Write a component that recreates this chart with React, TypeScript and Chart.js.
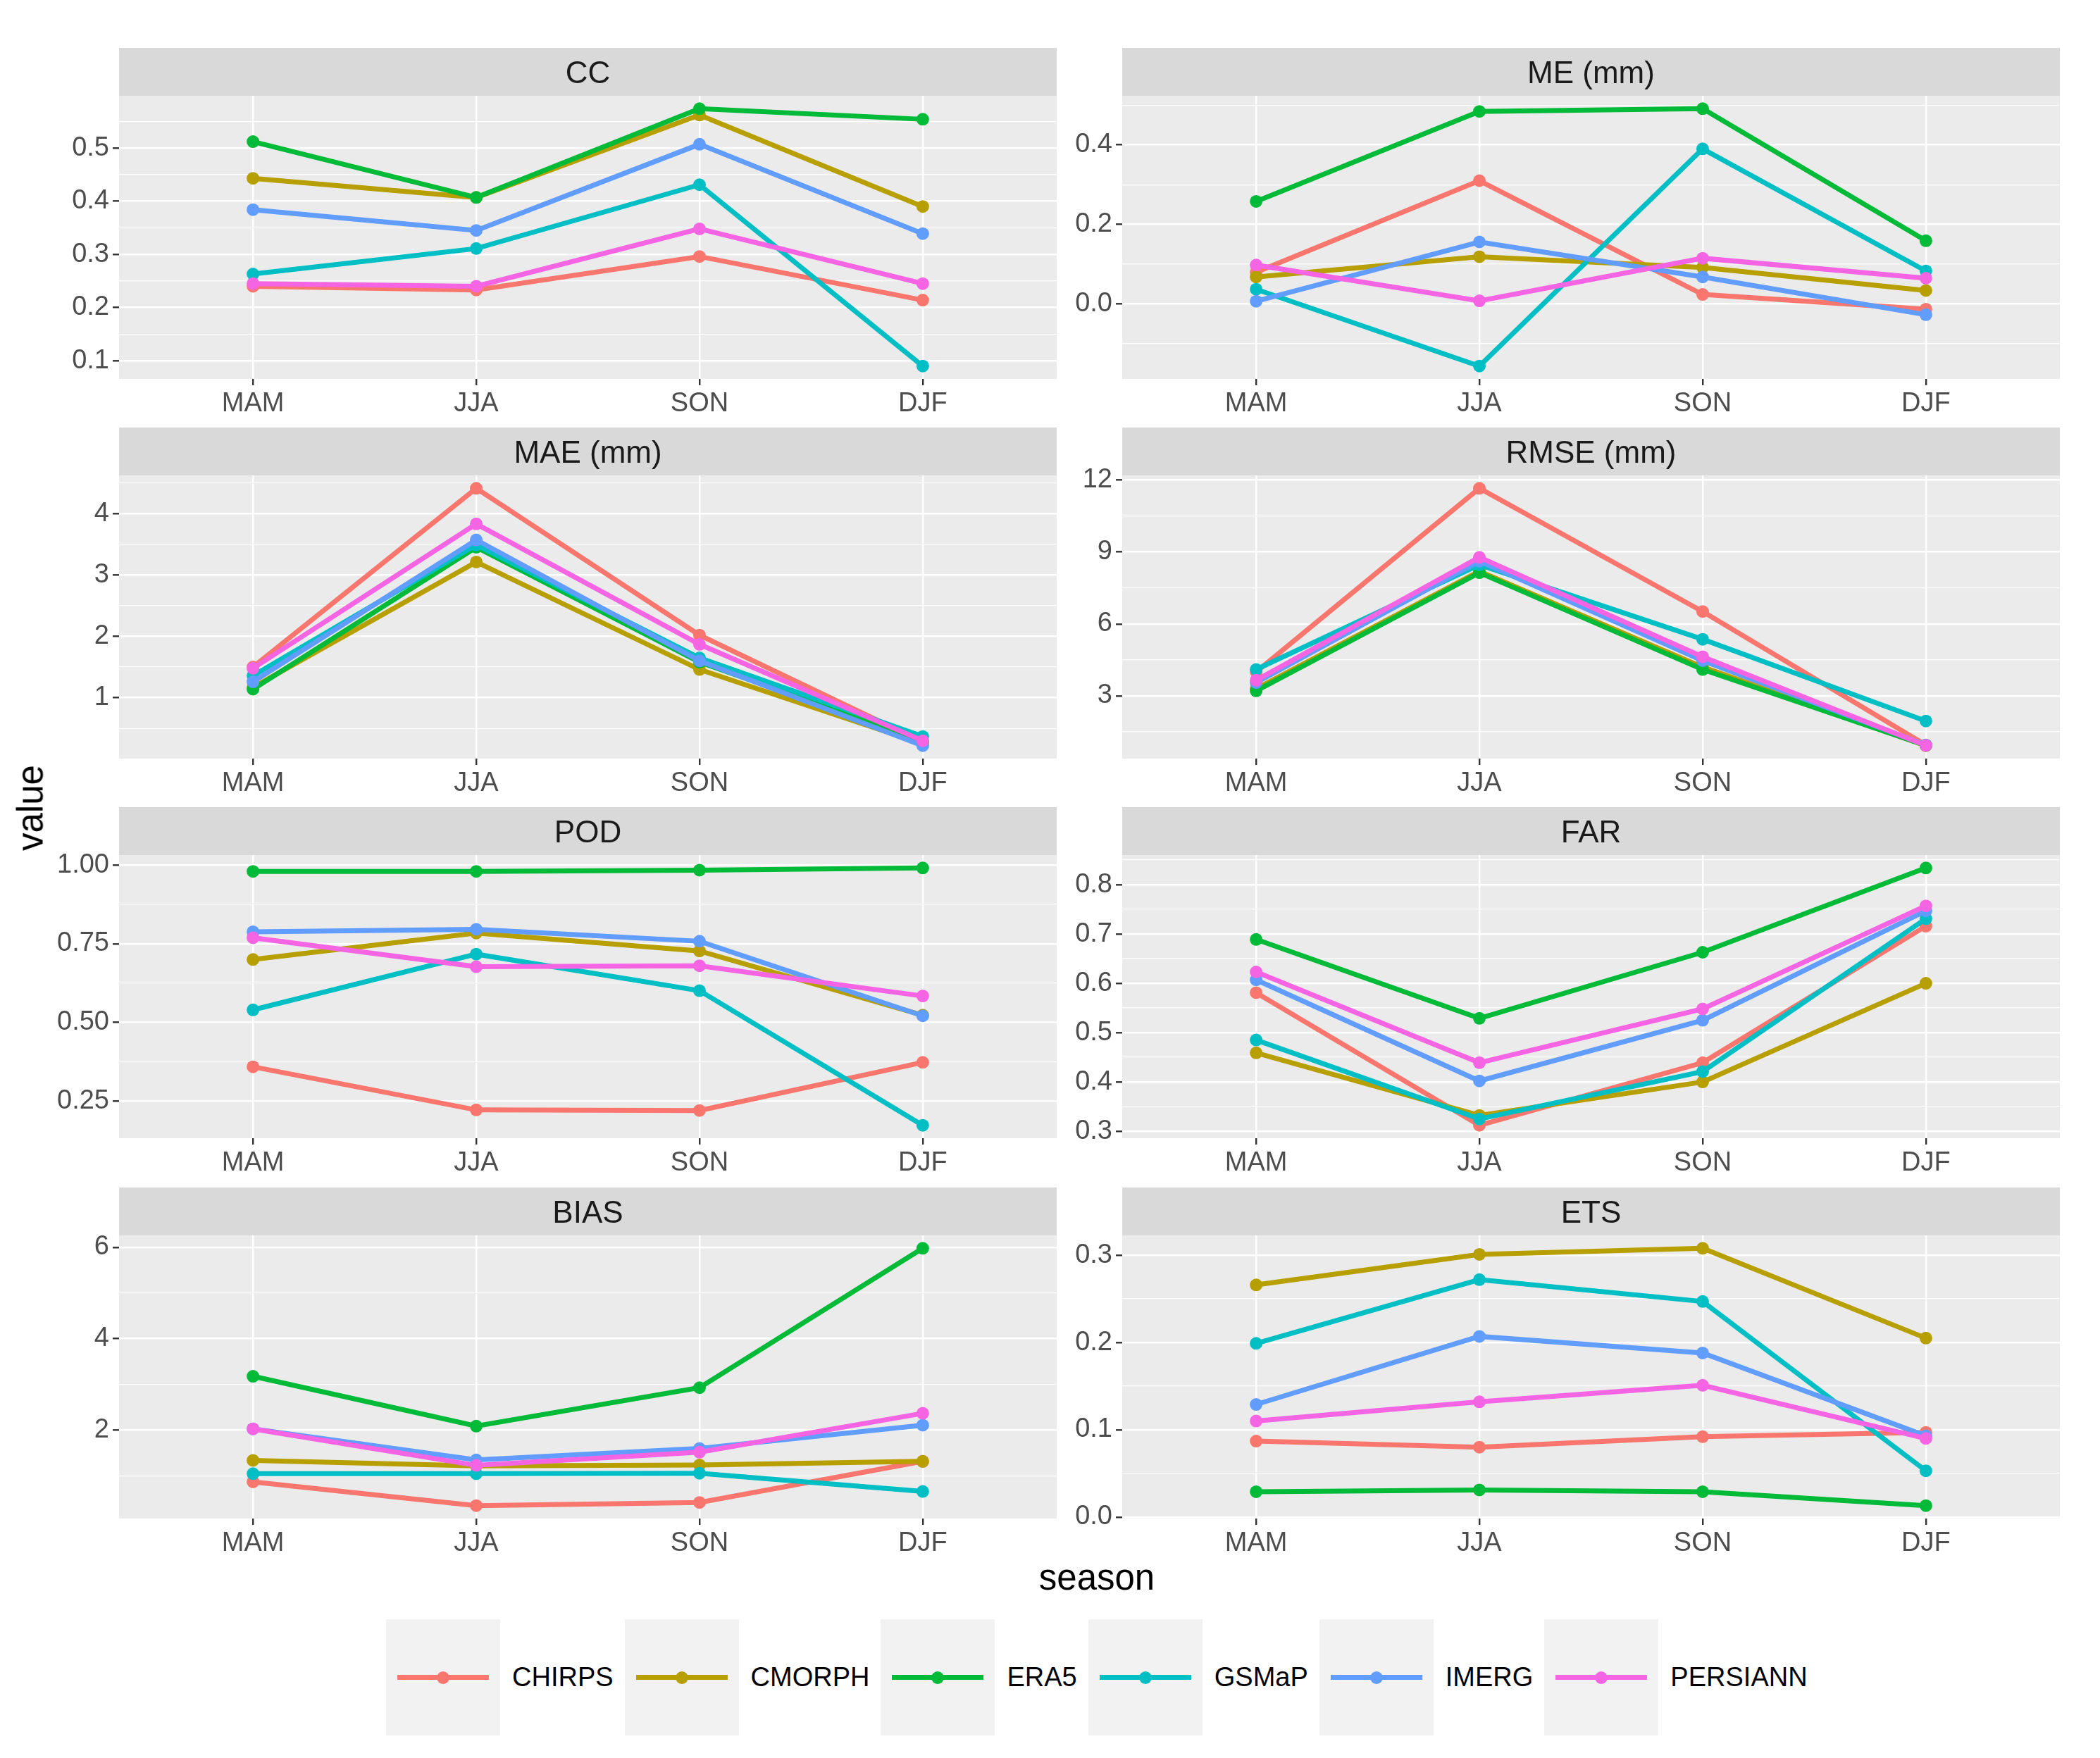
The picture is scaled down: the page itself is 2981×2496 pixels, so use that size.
import React, { useEffect, useRef } from 'react';
import { Chart, registerables } from 'chart.js';

Chart.register(...registerables);

const FONT = '"Liberation Sans", Arial, Helvetica, sans-serif';

const SEASONS = ['MAM', 'JJA', 'SON', 'DJF'];
const PRODUCTS = ['CHIRPS', 'CMORPH', 'ERA5', 'GSMaP', 'IMERG', 'PERSIANN'];
const COLORS = ['#F8766D', '#B79F00', '#00BA38', '#00BFC4', '#619CFF', '#F564E3'];

// rows follow PRODUCTS order, columns follow SEASONS order
const CC = [
  [0.240, 0.233, 0.296, 0.214],
  [0.443, 0.407, 0.562, 0.390],
  [0.512, 0.407, 0.574, 0.554],
  [0.263, 0.311, 0.431, 0.090],
  [0.384, 0.345, 0.507, 0.339],
  [0.245, 0.240, 0.348, 0.245],
];
const ME = [
  [0.080, 0.310, 0.024, -0.013],
  [0.068, 0.119, 0.092, 0.034],
  [0.258, 0.484, 0.491, 0.159],
  [0.037, -0.156, 0.390, 0.083],
  [0.007, 0.156, 0.068, -0.027],
  [0.098, 0.008, 0.115, 0.065],
];
const MAE = [
  [1.50, 4.41, 2.02, 0.28],
  [1.17, 3.21, 1.46, 0.25],
  [1.14, 3.45, 1.58, 0.30],
  [1.36, 3.49, 1.65, 0.37],
  [1.26, 3.57, 1.60, 0.22],
  [1.48, 3.83, 1.87, 0.30],
];
const RMSE = [
  [4.00, 11.66, 6.52, 0.95],
  [3.30, 8.20, 4.20, 0.92],
  [3.21, 8.14, 4.10, 0.93],
  [4.10, 8.47, 5.36, 1.95],
  [3.55, 8.62, 4.47, 0.95],
  [3.65, 8.78, 4.63, 0.93],
];
const POD = [
  [0.359, 0.222, 0.220, 0.373],
  [0.700, 0.784, 0.727, 0.523],
  [0.980, 0.980, 0.984, 0.991],
  [0.540, 0.717, 0.601, 0.173],
  [0.788, 0.796, 0.758, 0.521],
  [0.769, 0.677, 0.680, 0.584],
];
const FAR = [
  [0.581, 0.312, 0.439, 0.716],
  [0.459, 0.332, 0.400, 0.600],
  [0.689, 0.529, 0.663, 0.834],
  [0.485, 0.325, 0.421, 0.731],
  [0.607, 0.402, 0.525, 0.747],
  [0.623, 0.439, 0.548, 0.757],
];
const BIAS = [
  [0.87, 0.35, 0.42, 1.32],
  [1.34, 1.22, 1.24, 1.32],
  [3.18, 2.09, 2.93, 5.98],
  [1.05, 1.05, 1.06, 0.66],
  [2.03, 1.35, 1.60, 2.11],
  [2.03, 1.23, 1.52, 2.37],
];
const ETS = [
  [0.087, 0.080, 0.092, 0.097],
  [0.266, 0.301, 0.308, 0.205],
  [0.029, 0.031, 0.029, 0.013],
  [0.199, 0.272, 0.247, 0.053],
  [0.129, 0.207, 0.188, 0.093],
  [0.110, 0.132, 0.151, 0.090],
];

const CC_TICKS = ['0.1', '0.2', '0.3', '0.4', '0.5'];
const ME_TICKS = ['0.0', '0.2', '0.4'];
const MAE_TICKS = ['1', '2', '3', '4'];
const RMSE_TICKS = ['3', '6', '9', '12'];
const POD_TICKS = ['0.25', '0.50', '0.75', '1.00'];
const FAR_TICKS = ['0.3', '0.4', '0.5', '0.6', '0.7', '0.8'];
const BIAS_TICKS = ['2', '4', '6'];
const ETS_TICKS = ['0.0', '0.1', '0.2', '0.3'];

type PanelDef = { title: string; values: number[][]; ticks: string[] };

const PANELS: PanelDef[] = [
  { title: 'CC', values: CC, ticks: CC_TICKS },
  { title: 'ME (mm)', values: ME, ticks: ME_TICKS },
  { title: 'MAE (mm)', values: MAE, ticks: MAE_TICKS },
  { title: 'RMSE (mm)', values: RMSE, ticks: RMSE_TICKS },
  { title: 'POD', values: POD, ticks: POD_TICKS },
  { title: 'FAR', values: FAR, ticks: FAR_TICKS },
  { title: 'BIAS', values: BIAS, ticks: BIAS_TICKS },
  { title: 'ETS', values: ETS, ticks: ETS_TICKS },
];

// layout (page pixels)
const COL_X = [169, 1593];
const ROW_Y = [68, 607, 1146, 1686];
const Y_AXIS_W = [110, 80];
const PLOT_W = 1340;
const PLOT_H = 402;
const STRIP_H = 68;
const X_AXIS_H = 64;
const TICK_FONT = 38;
const STRIP_FONT = 44;

function Panel({ def, col, row }: { def: PanelDef; col: number; row: number }) {
  const ref = useRef<HTMLCanvasElement>(null);

  useEffect(() => {
    const majors = def.ticks.map(Number);
    const step = majors[1] - majors[0];
    const all = def.values.flat();
    const dmin = Math.min(...all);
    const dmax = Math.max(...all);
    const pad = (dmax - dmin) * 0.05;
    const ymin = dmin - pad;
    const ymax = dmax + pad;

    const buildYTicks = () => {
      const list: any[] = majors.map((v) => ({ value: v, isMinor: false }));
      for (let k = -1; k < majors.length; k++) {
        const m = majors[0] + (k + 0.5) * step;
        if (m >= ymin && m <= ymax) list.push({ value: m, isMinor: true });
      }
      list.sort((a, b) => a.value - b.value);
      return list;
    };

    const decor = {
      id: 'panelDecor',
      beforeDraw(chart: any) {
        const { ctx, chartArea: a } = chart;
        ctx.save();
        ctx.fillStyle = '#ebebeb';
        ctx.fillRect(a.left, a.top, a.right - a.left, a.bottom - a.top);
        ctx.fillStyle = '#d9d9d9';
        ctx.fillRect(a.left, a.top - STRIP_H, a.right - a.left, STRIP_H);
        ctx.fillStyle = '#1a1a1a';
        ctx.font = `${STRIP_FONT}px ${FONT}`;
        ctx.textAlign = 'center';
        ctx.textBaseline = 'alphabetic';
        ctx.fillText(def.title, (a.left + a.right) / 2, a.top - STRIP_H / 2 + 0.358 * STRIP_FONT);
        ctx.restore();
      },
    };

    const chart = new Chart(ref.current as HTMLCanvasElement, {
      type: 'line',
      data: {
        datasets: PRODUCTS.map((p, i) => ({
          label: p,
          data: def.values[i].map((v, j) => ({ x: j, y: v })),
          borderColor: COLORS[i],
          backgroundColor: COLORS[i],
          borderWidth: 7,
          pointRadius: 9,
          pointBorderWidth: 0,
          pointBackgroundColor: COLORS[i],
          tension: 0,
          order: PRODUCTS.length - i,
        })),
      },
      options: {
        animation: false,
        responsive: true,
        maintainAspectRatio: false,
        layout: { padding: { top: STRIP_H, left: 0, right: 0, bottom: 0 } },
        plugins: {
          legend: { display: false },
          tooltip: { enabled: false },
          title: { display: false },
        },
        scales: {
          x: {
            type: 'linear',
            min: -0.6,
            max: 3.6,
            afterBuildTicks: (s: any) => {
              s.ticks = SEASONS.map((_, i) => ({ value: i }));
            },
            afterFit: (s: any) => {
              s.height = X_AXIS_H;
            },
            ticks: {
              autoSkip: false,
              maxRotation: 0,
              padding: 4,
              color: '#4d4d4d',
              font: { size: TICK_FONT, family: FONT },
              callback: (v: any) => SEASONS[Math.round(Number(v))] ?? '',
            },
            grid: {
              color: '#ffffff',
              lineWidth: 2.4,
              drawTicks: true,
              tickLength: 9,
              tickWidth: 2.4,
              tickColor: '#333333',
            },
            border: { display: false },
          },
          y: {
            type: 'linear',
            min: ymin,
            max: ymax,
            bounds: 'data',
            afterBuildTicks: (s: any) => {
              s.ticks = buildYTicks();
            },
            afterFit: (s: any) => {
              s.width = Y_AXIS_W[col];
            },
            ticks: {
              autoSkip: false,
              padding: 5,
              color: '#4d4d4d',
              font: { size: TICK_FONT, family: FONT },
              callback: (v: any) => {
                const j = majors.findIndex((m) => Math.abs(m - Number(v)) < 1e-9);
                return j >= 0 ? def.ticks[j] : '';
              },
            },
            grid: {
              color: '#ffffff',
              lineWidth: (c: any) => (c.tick && c.tick.isMinor ? 1.3 : 2.6),
              drawTicks: true,
              tickLength: 9,
              tickWidth: 2.4,
              tickColor: (c: any) => (c.tick && c.tick.isMinor ? 'rgba(0,0,0,0)' : '#333333'),
            },
            border: { display: false },
          },
        },
      } as any,
      plugins: [decor],
    });
    return () => chart.destroy();
  }, [def, col, row]);

  return (
    <div
      style={{
        position: 'absolute',
        left: COL_X[col] - Y_AXIS_W[col],
        top: ROW_Y[row],
        width: Y_AXIS_W[col] + PLOT_W,
        height: STRIP_H + PLOT_H + X_AXIS_H,
      }}
    >
      <canvas ref={ref} />
    </div>
  );
}

function Legend() {
  return (
    <div
      style={{
        position: 'absolute',
        left: 548,
        top: 2299,
        height: 165,
        display: 'flex',
        alignItems: 'center',
      }}
    >
      {PRODUCTS.map((p, i) => (
        <React.Fragment key={p}>
          <div style={{ width: 162, height: 165, background: '#f2f2f2', position: 'relative', flex: 'none' }}>
            <div
              style={{ position: 'absolute', left: 16, right: 16, top: 79, height: 7, background: COLORS[i] }}
            />
            <div
              style={{
                position: 'absolute',
                left: 72,
                top: 73.5,
                width: 18,
                height: 18,
                borderRadius: '50%',
                background: COLORS[i],
              }}
            />
          </div>
          <div
            style={{
              font: `${TICK_FONT}px ${FONT}`,
              color: '#000',
              marginLeft: 17,
              marginRight: 16,
              whiteSpace: 'nowrap',
            }}
          >
            {p}
          </div>
        </React.Fragment>
      ))}
    </div>
  );
}

export default function App() {
  return (
    <div style={{ position: 'absolute', left: 0, top: 0, width: 2981, height: 2496, background: '#fff' }}>
      {PANELS.map((def, k) => (
        <Panel key={def.title} def={def} col={k % 2} row={Math.floor(k / 2)} />
      ))}
      <div
        style={{
          position: 'absolute',
          left: 43,
          top: 1147,
          transform: 'translate(-50%, -50%) rotate(-90deg)',
          font: `51px ${FONT}`,
          lineHeight: '51px',
          color: '#000',
          whiteSpace: 'nowrap',
        }}
      >
        value
      </div>
      <div
        style={{
          position: 'absolute',
          left: 1557,
          top: 2214,
          transform: 'translateX(-50%)',
          font: `51px ${FONT}`,
          lineHeight: '51px',
          color: '#000',
          whiteSpace: 'nowrap',
        }}
      >
        season
      </div>
      <Legend />
    </div>
  );
}
